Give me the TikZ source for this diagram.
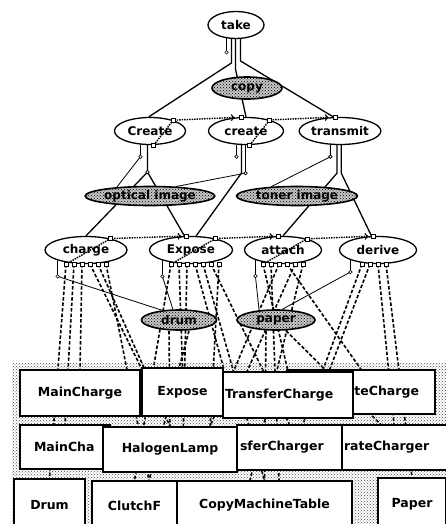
\documentclass[tikz,border=0pt]{standalone}
\usepackage{fontspec}
\setsansfont{DejaVu Sans}
\usetikzlibrary{shapes.geometric,patterns,backgrounds}

\begin{document}
\begin{tikzpicture}[x=1pt, y=-1pt,
    lbl/.style={font=\sffamily\bfseries\fontsize{12}{14}\selectfont},
    act/.style={lbl, ellipse, draw, line width=1.3pt, fill=white, inner sep=0pt},
    role/.style={lbl, ellipse, draw, line width=1.6pt, preaction={fill=black!22}, pattern=crosshatch dots, inner sep=0pt},
    box/.style={lbl, font=\sffamily\bfseries\fontsize{12.5}{14}\selectfont, draw, line width=1.3pt, fill=white, inner sep=0pt},
    link/.style={line width=1.3pt},
    rolelink/.style={line width=0.8pt},
    seq/.style={line width=1.4pt, dash pattern=on 1.5pt off 1pt, ->},
    dep/.style={line width=1.6pt, dash pattern=on 3.5pt off 2pt},
    port/.style={draw, fill=white, line width=0.6pt, inner sep=0pt, minimum size=4pt},
    knob/.style={circle, draw, fill=white, line width=0.6pt, inner sep=0pt, minimum size=3.5pt}]
    \useasboundingbox (0,0) rectangle (446,524);

    \fill[pattern=crosshatch dots, pattern color=black!70] (12,363) rectangle (446,524);

    \node[box, minimum width=148, minimum height=44, text width=116, align=right] (sepcharge) at (361,392) {teCharge};
    \node[box, minimum width=130, minimum height=46, text width=126, align=left] (transfer) at (288,395) {TransferCharge};
    \node[box, minimum width=81, minimum height=48] (expbox) at (182.5,392) {Expose};
    \node[box, minimum width=120, minimum height=46] (mcharge) at (80,393) {MainCharge};
    \node[box, minimum width=90, minimum height=44, text width=62, align=left] (mcharger) at (65,447) {MainCha};
    \node[box, minimum width=105, minimum height=45, text width=100, align=left] (scharger) at (394,447.5) {rateCharger};
    \node[box, minimum width=105, minimum height=45, text width=99, align=left] (tcharger) at (289.5,447.5) {sferCharger};
    \node[box, minimum width=134, minimum height=45] (halogen) at (170,449.5) {HalogenLamp};
    \node[box, minimum width=71, minimum height=52] (drumbox) at (49.5,505) {Drum};
    \node[box, minimum width=85, minimum height=49] (clutch) at (134.5,505.5) {ClutchF};
    \node[box, minimum width=175, minimum height=49] (table) at (264.5,505.5) {CopyMachineTable};
    \node[box, minimum width=68, minimum height=52] (paperbox) at (412,504) {Paper};

    \node[act, minimum width=56, minimum height=27] (take) at (236,25) {take};
    \node[role, minimum width=70, minimum height=22] (copy) at (247,88) {copy};
    \node[act, minimum width=71, minimum height=27] (Create) at (150,131) {Create};
    \node[act, minimum width=75, minimum height=27] (create) at (246,131) {create};
    \node[act, minimum width=78, minimum height=27] (transmit) at (340,131) {transmit};
    \node[role, minimum width=125, minimum height=19] (optical) at (150,196) {optical image};
    \node[role, minimum width=121, minimum height=19] (toner) at (297,196) {toner image};
    \node[act, minimum width=82, minimum height=27] (charge) at (86,250) {charge};
    \node[act, minimum width=83, minimum height=27] (Expose) at (191,250) {Expose};
    \node[act, minimum width=77, minimum height=27] (attach) at (283,250) {attach};
    \node[act, minimum width=77, minimum height=27] (derive) at (378,250) {derive};
    \node[role, minimum width=75, minimum height=20] (drum) at (179,320) {drum};
    \node[role, minimum width=78, minimum height=20] (paper) at (276,320) {paper};

    \begin{scope}[on background layer]
    \foreach \n/\dx/\b in {charge/-20/drumbox.north, charge/-12/mcharger.north, charge/-4/mcharge.north,
        charge/4/expbox.150, charge/12/halogen.north, charge/20/clutch.60,
        Expose/-20/clutch.north, Expose/-12/expbox.north, Expose/-4/halogen.60, Expose/4/expbox.30,
        Expose/12/table.north, Expose/20/tcharger.north, Expose/28/halogen.30,
        attach/-20/transfer.north, attach/-12/table.60, attach/-4/halogen.30, attach/4/sepcharge.north,
        attach/12/transfer.150, attach/20/table.120,
        derive/-16/tcharger.60, derive/-8/transfer.30, derive/0/scharger.north, derive/8/paperbox.north,
        drum/-10/halogen.north, drum/10/clutch.60, paper/-10/table.north, paper/10/scharger.120}
      \draw[dep] ([xshift=\dx pt]\n.south) -- (\b);

    \draw[link] (take.-125) -- ++(0,14) node[knob] {};
    \draw[link] (take.-108) -- ++(0,24) -- (Create.95);
    \draw[link] (take.-92) -- ++(0,30) -- (create.north);
    \draw[link] (take.-72) -- ++(0,22) -- (transmit.115);

    \draw[rolelink] (Create.-125) -- ++(0,12) node[knob] {} -- (optical.165);
    \draw[link] (Create.-100) -- ++(0,27) coordinate (cfork) -- (charge.north);
    \draw[link] (cfork) -- (Expose.115);
    \draw[rolelink] (create.-125) -- ++(0,12) node[knob] {};
    \draw[link] (create.-108) -- ++(0,28) -- (Expose.70);
    \draw[rolelink] (create.-92) -- ++(0,28) node[knob] {} -- (optical.20);
    \draw[rolelink] (transmit.-125) -- ++(0,12) node[knob] {} -- (toner.160);
    \draw[link] (transmit.-102) -- ++(0,28) -- (attach.north);
    \draw[link] (transmit.-85) -- ++(0,28) -- (derive.115);

    \draw[rolelink] (charge.-160) -- ++(0,16) node[knob] {} -- (drum.150);
    \draw[rolelink] (Expose.-160) -- ++(0,16) node[knob] {} -- (drum.120);
    \draw[rolelink] (attach.-160) -- ++(0,16) node[knob] {} -- (paper.150);
    \draw[rolelink] (derive.-160) -- ++(0,12) node[knob] {} -- (paper.60);
    \end{scope}

    \node[knob] at (cfork) {};

    \draw[seq] (Create.-75) -- (Create.25) -- (create.130);
    \draw[seq] (create.-75) -- (create.25) -- (transmit.130);
    \draw[seq] ([xshift=-20pt]charge.south) -- (charge.25) -- (Expose.125);
    \draw[seq] ([xshift=-20pt]Expose.south) -- (Expose.25) -- (attach.125);
    \draw[seq] ([xshift=-20pt]attach.south) -- (attach.25) -- (derive.125);

    \foreach \n in {Create, create}
      \node[port] at (\n.-75) {};
    \foreach \n in {Create, create, charge, Expose, attach}
      \node[port] at (\n.25) {};
    \foreach \n in {create, transmit, Expose, attach, derive}
      \node[port] at (\n.110) {};
    \foreach \n in {charge, Expose, attach}
      \foreach \dx in {-20, -12, -4, 4, 12, 20}
        \node[port, xshift=\dx pt] at (\n.south) {};
    \node[port, xshift=28pt] at (Expose.south) {};
    \foreach \dx in {-16, -8, 0, 8}
      \node[port, xshift=\dx pt] at (derive.south) {};
  \end{tikzpicture}
\end{document}
